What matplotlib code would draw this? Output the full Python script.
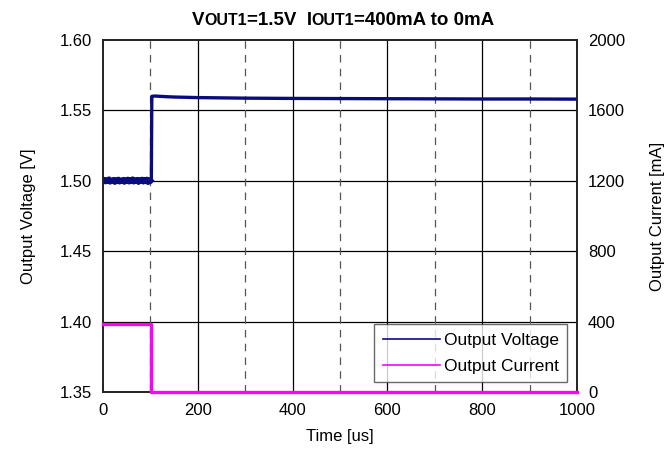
import matplotlib
matplotlib.use("Agg")
import matplotlib.pyplot as plt
from matplotlib.lines import Line2D

plt.rcParams['font.family'] = ['Liberation Sans', 'DejaVu Sans']

# ---- data ----
t_pre = [0, 2.5, 5, 7.5, 10, 12.5, 15, 17.5, 20, 22.5, 25, 27.5, 30, 32.5, 35, 37.5,
         40, 42.5, 45, 47.5, 50, 52.5, 55, 57.5, 60, 62.5, 65, 67.5, 70, 72.5, 75,
         77.5, 80, 82.5, 85, 87.5, 90, 92.5, 95, 97.5, 100, 102]
v_pre = [1.4998, 1.5012, 1.4990, 1.5010, 1.4992, 1.5016, 1.4988, 1.5008, 1.4993, 1.5012,
         1.4986, 1.5010, 1.4992, 1.5014, 1.4989, 1.5008, 1.4992, 1.5012, 1.4987, 1.5010,
         1.4993, 1.5014, 1.4989, 1.5010, 1.4992, 1.5016, 1.4989, 1.5010, 1.4992, 1.5012,
         1.4986, 1.5010, 1.4993, 1.5014, 1.4989, 1.5012, 1.4992, 1.5014, 1.4985, 1.5010,
         1.4992, 1.5000]
t_post = [102, 103, 110, 130, 150, 200, 250, 300, 400, 500, 600, 700, 800, 900, 1000]
v_post = [1.5000, 1.5600, 1.5602, 1.5598, 1.5595, 1.5591, 1.5589, 1.5587, 1.5585,
          1.5584, 1.5583, 1.5582, 1.5581, 1.5581, 1.5580]
t_cur = [0, 101, 101, 1000]
i_cur = [384, 384, 0, 0]

v_ticks = [1.35, 1.40, 1.45, 1.50, 1.55, 1.60]
i_ticks = [0, 400, 800, 1200, 1600, 2000]
x_ticks = [0, 200, 400, 600, 800, 1000]
x_dashed = [100, 300, 500, 700, 900]

navy = '#0b0b80'
magenta = '#ff00ff'

fig = plt.figure(figsize=(6.72, 4.67), dpi=100)
ax = fig.add_axes([103/672, 1-392/467, (577-103)/672, (392-40)/467])
ax2 = ax.twinx()

ax.set_xlim(0, 1000)
ax.set_ylim(1.35, 1.60)
ax2.set_ylim(0, 2000)
ax.set_xticks(x_ticks)
ax.set_yticks(v_ticks)
ax.set_yticklabels([f"{v:.2f}" for v in v_ticks])
ax2.set_yticks(i_ticks)

# grid
for y in v_ticks[1:-1]:
    ax.axhline(y, color='black', lw=0.9, zorder=1)
for x in x_ticks[1:-1]:
    ax.axvline(x, color='black', lw=0.9, zorder=1)
for x in x_dashed:
    ax.axvline(x, color='#555555', lw=0.9, dashes=(6, 5), zorder=1)

ax.plot(t_pre, v_pre, color=navy, lw=3.2, zorder=3)
ax.plot(t_post, v_post, color=navy, lw=2.4, zorder=3)
ax2.plot(t_cur, i_cur, color=magenta, lw=2.4, zorder=3, clip_on=False)

for a in (ax, ax2):
    a.tick_params(length=0, labelsize=12, pad=8)
    for s in a.spines.values():
        s.set_color('#222222')
        s.set_linewidth(1.2)

ax.set_xlabel('Time [us]', fontsize=12, labelpad=8)
ax.set_ylabel('Output Voltage [V]', fontsize=12, labelpad=17)
ax2.set_ylabel('Output Current [mA]', fontsize=12, labelpad=18)

handles = [Line2D([], [], color=navy, lw=1.2), Line2D([], [], color=magenta, lw=1.2)]
leg = ax2.legend(handles, ['Output Voltage', 'Output Current'], loc='lower right',
                 fontsize=12.5, frameon=True, fancybox=False, edgecolor='#444444',
                 handlelength=3.3, handletextpad=0.2, borderaxespad=0.55,
                 borderpad=0.5, labelspacing=0.6)
leg.get_frame().set_linewidth(1.0)
leg.set_zorder(10)

# title with reduced-size subscripts
pieces = [("V", 13.5), ("OUT1", 11.5), ("=1.5V  I", 13.5), ("OUT1", 11.5), ("=400mA to 0mA", 13.5)]
texts = [fig.text(0, 1 - 25/467, s, fontsize=fs, fontweight='bold', ha='left', va='baseline')
         for s, fs in pieces]
fig.canvas.draw()
r = fig.canvas.get_renderer()
widths = [t.get_window_extent(r).width for t in texts]
total = sum(widths)
x0 = 343 - total / 2
for t, w in zip(texts, widths):
    t.set_x(x0 / 672)
    x0 += w

fig.savefig('out.png', dpi=100)
